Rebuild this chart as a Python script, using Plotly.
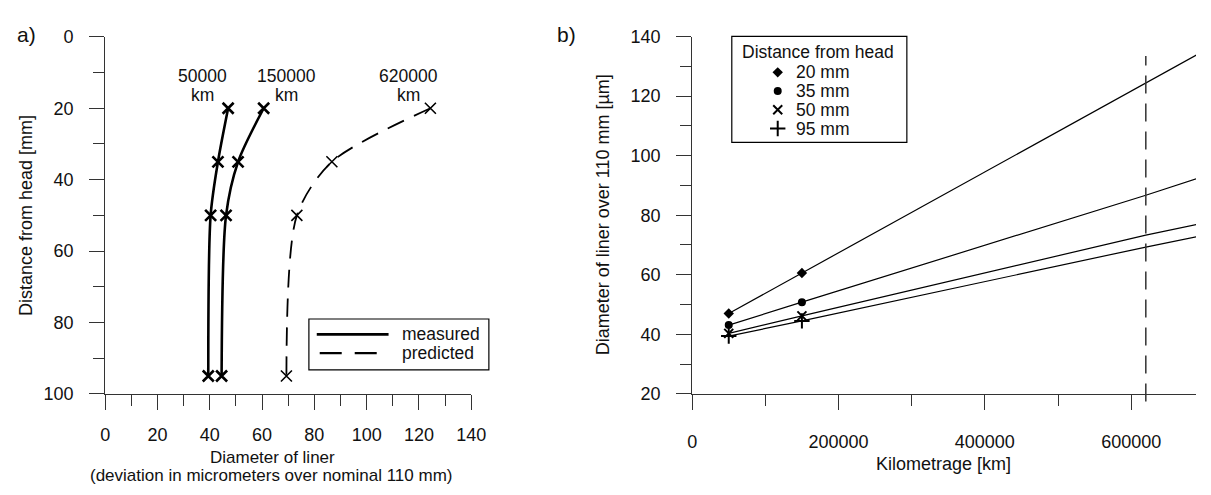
import plotly.graph_objects as go

# ---------------- data ----------------
distances = [20, 35, 50, 95]                      # distance from head [mm]
run_labels = ["50000", "150000", "620000"]         # kilometrage of each profile
meas_50000 = [47.0, 43.1, 40.3, 39.4]              # measured deviation [um]
meas_150000 = [60.6, 50.8, 46.2, 44.5]             # measured deviation [um]
pred_620000 = [124.4, 86.7, 73.3, 69.3]            # predicted deviation [um]
edge_690000 = [133.9, 92.3, 76.9, 72.8]            # extrapolated value at right edge
km_measured = [50000, 150000]
km_line = [50000, 150000, 620000, 690000]
series_names = ["20 mm", "35 mm", "50 mm", "95 mm"]
series_symbols = ["diamond", "circle", "x-thin-open", "cross-thin-open"]
x_ticks_a = [0, 20, 40, 60, 80, 100, 120, 140]
y_ticks_a = [0, 20, 40, 60, 80, 100]
x_ticks_b = [0, 200000, 400000, 600000]
y_ticks_b = [20, 40, 60, 80, 100, 120, 140]
predicted_km = 620000

W, H = 1211, 495
FONT = "Liberation Sans, Arial, sans-serif"
FS = 18
FS2 = 17.5
AX = "#333333"


def px(x):
    return x / W


def py(y):
    return 1 - y / H


def sym_size(sym):
    return {"diamond": 8, "circle": 8, "x-thin-open": 9, "cross-thin-open": 11}[sym]


def sym_lw(sym):
    return 2 if sym.endswith("open") else 0


fig = go.Figure()

# ---------------- panel a ----------------
for vals in (meas_50000, meas_150000):
    fig.add_trace(go.Scatter(
        x=vals, y=distances, mode="lines+markers", xaxis="x", yaxis="y",
        line=dict(color="black", width=2.6, shape="spline", smoothing=0.8),
        marker=dict(symbol="x-thin-open", size=11, line=dict(color="black", width=2.6)),
        showlegend=False, hoverinfo="skip"))
fig.add_trace(go.Scatter(
    x=pred_620000, y=distances, mode="lines+markers", xaxis="x", yaxis="y",
    line=dict(color="black", width=1.8, dash="18px,11px", shape="spline", smoothing=0.8),
    marker=dict(symbol="x-thin-open", size=11, line=dict(color="black", width=1.6)),
    showlegend=False, hoverinfo="skip"))

# ---------------- panel b ----------------
for i, name in enumerate(series_names):
    fig.add_trace(go.Scatter(
        x=km_line,
        y=[meas_50000[i], meas_150000[i], pred_620000[i], edge_690000[i]],
        mode="lines", xaxis="x2", yaxis="y2",
        line=dict(color="black", width=1.2),
        showlegend=False, hoverinfo="skip"))
    sym = series_symbols[i]
    fig.add_trace(go.Scatter(
        x=km_measured, y=[meas_50000[i], meas_150000[i]], mode="markers",
        xaxis="x2", yaxis="y2", name=name,
        marker=dict(symbol=sym, color="black", size=sym_size(sym),
                    line=dict(color="black", width=sym_lw(sym))),
        showlegend=False, hoverinfo="skip"))

# ---------------- legends (overlay pixel axes) ----------------
fig.add_trace(go.Scatter(x=[317, 390], y=[338, 338], mode="lines", xaxis="x3", yaxis="y3",
                         line=dict(color="black", width=2.6), showlegend=False, hoverinfo="skip"))
fig.add_trace(go.Scatter(x=[320, 378], y=[357.5, 357.5], mode="lines", xaxis="x3", yaxis="y3",
                         line=dict(color="black", width=2.2, dash="22px,13px"),
                         showlegend=False, hoverinfo="skip"))
leg_y = [65, 84.5, 104, 123.5]
for i, sym in enumerate(series_symbols):
    fig.add_trace(go.Scatter(
        x=[785.7], y=[leg_y[i]], mode="markers", xaxis="x3", yaxis="y3",
        marker=dict(symbol=sym, color="black", size=sym_size(sym),
                    line=dict(color="black", width=sym_lw(sym))),
        showlegend=False, hoverinfo="skip"))

axis_common = dict(
    showline=True, linecolor=AX, linewidth=1.2, ticks="outside", ticklen=15,
    tickwidth=1.2, tickcolor=AX, showgrid=False, zeroline=False,
    tickfont=dict(family=FONT, size=FS, color="#111"),
)
minor_common = dict(ticklen=11, ticks="outside", tickcolor=AX, tickwidth=1.2)

shapes = [
    dict(type="rect", xref="paper", yref="paper", x0=px(309), x1=px(492), y0=py(375), y1=py(322),
         line=dict(color="black", width=1.2), fillcolor="white", layer="below"),
    dict(type="rect", xref="paper", yref="paper", x0=px(739), x1=px(917), y0=py(138), y1=py(27.5),
         line=dict(color="black", width=1.2), fillcolor="white", layer="below"),
    dict(type="line", xref="x2", yref="paper", x0=predicted_km, x1=predicted_km,
         y0=py(408), y1=py(48), line=dict(color="#333", width=1.5, dash="18px,10px")),
]

ann = []


def text(x, y, s, size=FS, xanchor="center", yanchor="middle", angle=0):
    ann.append(dict(x=px(x), y=py(y), xref="paper", yref="paper", text=s, showarrow=False,
                    xanchor=xanchor, yanchor=yanchor, textangle=angle,
                    font=dict(family=FONT, size=size, color="#111")))


text(22, 26, "a)", size=21)
text(571, 26, "b)", size=21)
text(22, 214, "Distance from head [mm]", angle=-90)
text(272, 466, "Diameter of liner", size=17)
text(270, 485, "(deviation in micrometers over nominal 110 mm)", size=17)
text(608, 213, "Diameter of liner over 110 mm [µm]", angle=-90)
text(954, 473, "Kilometrage [km]")
label_x = [201, 286, 410]
for lx, lab in zip(label_x, run_labels):
    text(lx, 68.5, lab, size=FS2)
    text(lx, 88.5, "km", size=FS2)
text(402, 338, "measured", xanchor="left", size=FS2)
text(402, 357.5, "predicted", xanchor="left", size=FS2)
text(827, 43.5, "Distance from head", size=FS2)
for i, name in enumerate(series_names):
    text(802.5, leg_y[i], name, xanchor="left", size=FS2)

fig.update_layout(
    width=W, height=H, autosize=False,
    margin=dict(l=0, r=0, t=0, b=0, pad=0),
    paper_bgcolor="white", plot_bgcolor="rgba(0,0,0,0)",
    showlegend=False,
    xaxis=dict(domain=[px(102), px(474)], range=[0, 140], tickvals=x_ticks_a,
               minor=dict(dtick=10, tick0=0, **minor_common),
               anchor="y", ticklabelstandoff=9, **axis_common),
    yaxis=dict(domain=[py(400), py(28)], range=[100, 0], tickvals=y_ticks_a,
               minor=dict(dtick=10, tick0=0, **minor_common),
               anchor="x", ticklabelstandoff=12, **axis_common),
    xaxis2=dict(domain=[px(698.7), 1], range=[0, 688600], tickvals=x_ticks_b, tickformat="d",
                minor=dict(dtick=100000, tick0=0, **minor_common),
                anchor="y2", ticklabelstandoff=16, **axis_common),
    yaxis2=dict(domain=[py(400), py(27.7)], range=[20, 140], tickvals=y_ticks_b,
                minor=dict(dtick=10, tick0=0, **minor_common),
                anchor="x2", ticklabelstandoff=12, **axis_common),
    xaxis3=dict(domain=[0, 1], range=[0, W], visible=False, fixedrange=True, anchor="y3"),
    yaxis3=dict(domain=[0, 1], range=[H, 0], visible=False, fixedrange=True, anchor="x3"),
    shapes=shapes,
    annotations=ann,
)

fig.write_html("out.html")
